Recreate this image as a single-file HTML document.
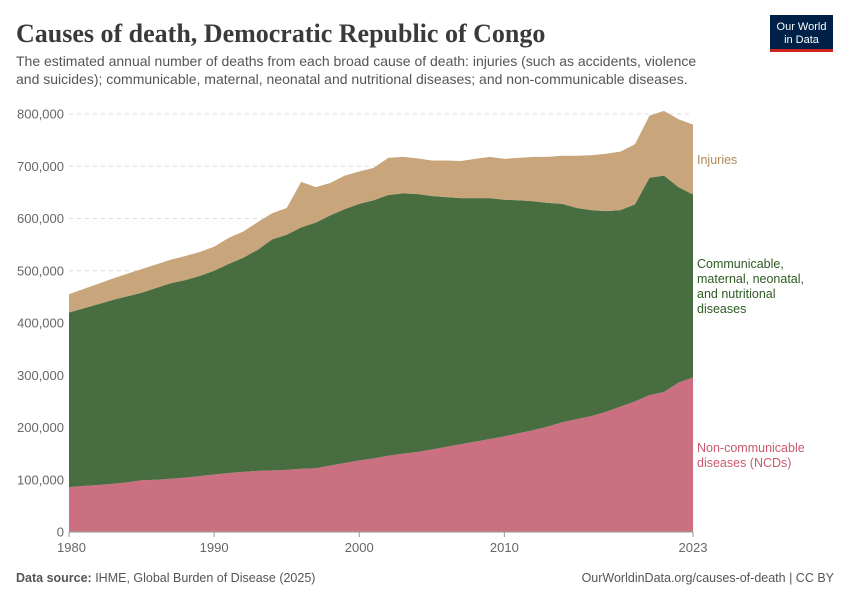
<!DOCTYPE html>
<html><head><meta charset="utf-8"><style>
body{margin:0;background:#fff;width:850px;height:600px;overflow:hidden;font-family:"Liberation Sans",sans-serif;}
svg{display:block}
</style></head><body>
<svg id="chart" width="850" height="600" xmlns="http://www.w3.org/2000/svg">
<text x="16" y="42" font-family="Liberation Serif, serif" font-size="26" font-weight="bold" fill="#3a3a3a">Causes of death, Democratic Republic of Congo</text>
<text x="16" y="66" font-size="14" fill="#555">The estimated annual number of deaths from each broad cause of death: injuries (such as accidents, violence</text>
<text x="16" y="84" font-size="14" fill="#555">and suicides); communicable, maternal, neonatal and nutritional diseases; and non-communicable diseases.</text>
<g>
<rect x="770" y="15" width="63" height="35" fill="#002147"/>
<rect x="770" y="49" width="63" height="3" fill="#ce261e"/>
<text x="801.5" y="30" font-size="11" fill="#fff" text-anchor="middle">Our World</text>
<text x="801.5" y="43" font-size="11" fill="#fff" text-anchor="middle">in Data</text>
</g>
<g id="grid"></g>
<g id="areas"></g>
<g id="axes"></g>
<g>
<text x="697" y="164" font-size="12.5" fill="#b0895a">Injuries</text>
<text x="697" y="268" font-size="12.5" fill="#2e5a24">Communicable,</text>
<text x="697" y="283" font-size="12.5" fill="#2e5a24">maternal, neonatal,</text>
<text x="697" y="298" font-size="12.5" fill="#2e5a24">and nutritional</text>
<text x="697" y="313" font-size="12.5" fill="#2e5a24">diseases</text>
<text x="697" y="452" font-size="12.5" fill="#c85a6e">Non-communicable</text>
<text x="697" y="467" font-size="12.5" fill="#c85a6e">diseases (NCDs)</text>
</g>
<text x="16" y="582" font-size="12.5" fill="#555"><tspan font-weight="bold">Data source:</tspan> IHME, Global Burden of Disease (2025)</text>
<text x="834" y="582" font-size="12.5" fill="#555" text-anchor="end">OurWorldinData.org/causes-of-death | CC BY</text>
</svg>
<script>
const years=[];for(let y=1980;y<=2023;y++)years.push(y);
const ncd=[86,88,90,92,95,99,100,102,104,107,110,113,115,117,118,119,121,122,127,132,137,141,146,150,153,158,163,168,173,178,183,189,195,202,210,216,222,230,240,250,262,268,286,296];
const communicable=[334,340,346,352,356,359,367,374,378,383,390,400,410,423,442,450,462,470,479,486,491,494,499,498,494,485,478,471,466,461,453,446,438,428,418,404,394,384,376,377,416,414,374,350];
const injuries=[35,37,39,41,43,45,45,45,46,46,46,50,50,53,50,51,87,68,62,64,62,62,71,70,68,68,70,71,75,79,78,81,85,88,92,100,105,110,112,115,119,124,130,134];
const yTicks=[0,100000,200000,300000,400000,500000,600000,700000,800000];
const xTicks=[1980,1990,2000,2010,2023];
const NS="http://www.w3.org/2000/svg";
const X=y=>69+(y-1980)*(624/43);
const Y=v=>532-v/1000*0.5225;
function mk(t,a,p){const e=document.createElementNS(NS,t);for(const k in a)e.setAttribute(k,a[k]);p.appendChild(e);return e;}
const grid=document.getElementById('grid'),areas=document.getElementById('areas'),axes=document.getElementById('axes');
yTicks.forEach(v=>{
 if(v>0){const l=mk('line',{x1:69,x2:693,y1:Y(v),y2:Y(v),stroke:'#ddd','stroke-dasharray':'4,4'},grid);
 
 }
 const t=mk('text',{x:64,y:Y(v)+4.5,'font-size':13,fill:'#666','text-anchor':'end'},axes);
 t.textContent=v.toLocaleString('en-US');
 
 
});
const series=[{d:ncd,c:'#ca7080',n:'area-ncds'},{d:communicable,c:'#486d40',n:'area-communicable'},{d:injuries,c:'#c8a57b',n:'area-injuries'}];
let base=years.map(()=>0);
series.forEach(s=>{
 const top=base.map((b,i)=>b+s.d[i]*1000);
 let p='M'+years.map((y,i)=>X(y)+','+Y(top[i])).join('L');
 for(let i=years.length-1;i>=0;i--)p+='L'+X(years[i])+','+Y(base[i]);
 const e=mk('path',{d:p+'Z',fill:s.c},areas);
 
 
 base=top;
});
mk('line',{x1:69,x2:693,y1:532,y2:532,stroke:'#999'},axes);
xTicks.forEach(y=>{
 mk('line',{x1:X(y),x2:X(y),y1:532,y2:537,stroke:'#999'},axes);
 const t=mk('text',{x:X(y),y:552,'font-size':13,fill:'#666','text-anchor':y===1980?'start':'middle'},axes);
 if(y===1980)t.setAttribute('x',X(y)-12);
 t.textContent=y;
 
 
});
</script>
</body></html>
